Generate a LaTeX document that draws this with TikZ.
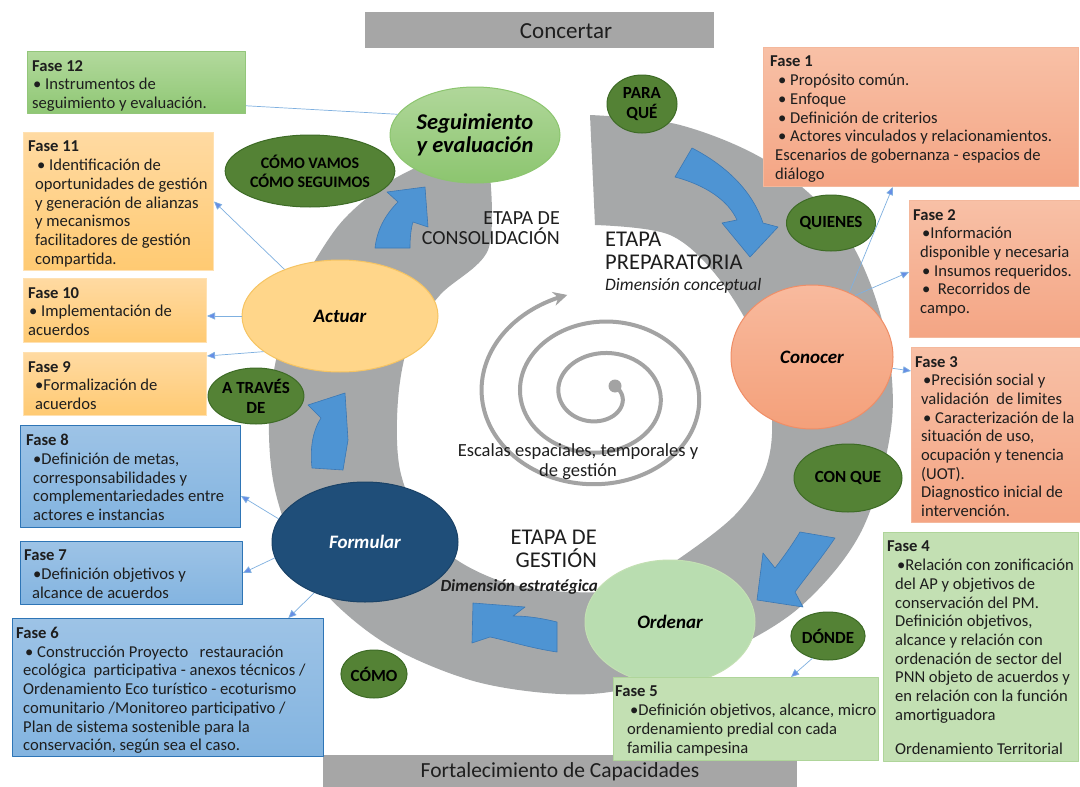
\documentclass[tikz,border=0pt]{standalone}
\usepackage{fontspec}
\setmainfont{Carlito}
\usetikzlibrary{shapes.geometric}
\usetikzlibrary{arrows.meta}
\usetikzlibrary{calc}

\definecolor{txt}{HTML}{1E1E1E}
\definecolor{bandgray}{HTML}{A6A8A9}
\definecolor{bargray}{HTML}{A6A6A6}
\definecolor{spiralgray}{HTML}{A3A3A3}
\definecolor{arrowblue}{HTML}{4E94D3}
\definecolor{arrowedge}{HTML}{3B78B4}
\definecolor{linkblue}{HTML}{7FB0E0}
\definecolor{askfill}{HTML}{548235}
\definecolor{askedge}{HTML}{3E6B26}
\definecolor{segtop}{HTML}{B0D79A}
\definecolor{segbot}{HTML}{8CC56F}
\definecolor{actfill}{HTML}{FFD68A}
\definecolor{actedge}{HTML}{F6C462}
\definecolor{contop}{HTML}{F8BA9E}
\definecolor{conbot}{HTML}{F4A07A}
\definecolor{conedge}{HTML}{EF8E67}
\definecolor{ordfill}{HTML}{B9DDB0}
\definecolor{frmfill}{HTML}{1F4E79}
\definecolor{grntop}{HTML}{B2D99C}
\definecolor{grnbot}{HTML}{8FC774}
\definecolor{grnedge}{HTML}{93C67A}
\definecolor{orgtop}{HTML}{FFDAA2}
\definecolor{orgbot}{HTML}{FFCA72}
\definecolor{orgedge}{HTML}{FFE1B2}
\definecolor{blutop}{HTML}{9DC3E6}
\definecolor{blubot}{HTML}{83B4E0}
\definecolor{bluedge}{HTML}{2E75B6}
\definecolor{saltop}{HTML}{F8C0A6}
\definecolor{salbot}{HTML}{F4A584}
\definecolor{saledge}{HTML}{F4B89C}
\definecolor{palefill}{HTML}{C3E0B3}
\definecolor{paleedge}{HTML}{AFD59A}

\begin{document}
\begin{tikzpicture}
  [x=1pt,y=-1pt,line join=round,
   % Styles
   bar/.style={rectangle,fill=bargray,inner sep=0pt,anchor=north west},
   bartext/.style={inner sep=0pt,text=txt,font=\fontsize{23}{25}\selectfont},
   band/.style={fill=bandgray},
   spiral/.style={draw=spiralgray,line width=4pt,line cap=round,
     -{Stealth[length=14pt,width=14pt]}},
   blockarrow/.style={fill=arrowblue,draw=arrowedge,line width=0.6pt},
   phase/.style={ellipse,inner sep=0pt,line width=1pt,align=center,text=black,
     font=\fontsize{19}{22}\selectfont\bfseries\itshape},
   ask/.style={ellipse,fill=askfill,draw=askedge,line width=1pt,inner sep=0pt,
     align=center,text=black,font=\fontsize{17}{20}\selectfont\bfseries},
   fasebox/.style={rectangle,inner sep=0pt,anchor=north west,line width=1pt},
   orangebox/.style={fasebox,draw=orgedge,top color=orgtop,bottom color=orgbot},
   greenbox/.style={fasebox,draw=grnedge,top color=grntop,bottom color=grnbot},
   bluebox/.style={fasebox,draw=bluedge,top color=blutop,bottom color=blubot},
   salmonbox/.style={fasebox,draw=saledge,top color=saltop,bottom color=salbot},
   palebox/.style={fasebox,draw=paleedge,fill=palefill},
   fasetext/.style={anchor=north west,inner sep=0pt,align=left,text=txt,
     font=\fontsize{16.6}{18.7}\selectfont},
   etapa/.style={inner sep=0pt,text=txt,font=\fontsize{22.5}{23}\selectfont},
   dimension/.style={inner sep=0pt,text=txt,font=\fontsize{17.5}{18}\selectfont\itshape},
   link/.style={draw=linkblue,line width=0.7pt,
     -{Triangle[length=8pt,width=7pt,fill=linkblue!80!blue]}}]

  \useasboundingbox (0,0) rectangle (1080,787);
  \fill[white] (0,0) rectangle (1080,787);

  % top and bottom bars
  \node[bar,minimum width=349pt,minimum height=36pt] (concertar) at (365,12) {};
  \node[bartext] (concertartext) at (566,31) {Concertar};
  \node[bar,minimum width=474pt,minimum height=32pt] (fortal) at (323,755) {};
  \node[bartext,font=\fontsize{21.5}{24}\selectfont] (fortaltext) at (560,772)
    {Fortalecimiento de Capacidades};

  % gray band round the cycle
  \fill[band] plot[smooth,tension=0.55] coordinates {(590,115) (680,125) (770,163)
      (843,230) (882,320) (892,420) (862,530) (800,607) (720,655) (630,688) (560,694)
      (470,680) (380,640) (310,575) (275,490) (270,400) (290,310) (335,230) (380,188)
      (415,168)}
    -- plot[smooth,tension=0.55] coordinates {(490,175) (488,250) (440,295) (410,340)
      (398,400) (400,470) (425,530) (460,562) (510,584) (570,592) (630,588) (680,558)
      (735,515) (765,470) (772,420) (760,350) (720,280) (670,235) (595,225)}
    -- cycle;

  % spiral in the middle
  \draw[spiral] plot[domain=-35:975,samples=240,smooth]
    ({600+(22+0.107*\x)*cos(\x)},{395+0.82*(22+0.107*\x)*sin(\x)});
  \fill[spiralgray] (615,386) circle (6.5pt);

  % blue block arrows
  \filldraw[blockarrow] (675,177) -- (692,148) .. controls (725,165) and (752,190) .. (763,223)
    -- (778,227) -- (750,257) -- (722,223) -- (737,220)
    .. controls (728,200) and (705,185) .. (675,177) -- cycle;
  \filldraw[blockarrow] (800,532) -- (835,538) .. controls (820,560) and (805,578) .. (795,592)
    -- (803,607) -- (757,600) -- (763,553) -- (775,568)
    .. controls (785,555) and (792,545) .. (800,532) -- cycle;
  \filldraw[blockarrow] (557,622) -- (557,652) .. controls (530,648) and (505,640) .. (490,637)
    -- (472,643) -- (473,603) -- (525,607) -- (513,616)
    .. controls (530,616) and (545,619) .. (557,622) -- cycle;
  \filldraw[blockarrow] (312,468) -- (343,470) -- (348,440) -- (345,393) -- (308,405) -- (321,418)
    .. controls (312,432) and (310,450) .. (312,468) -- cycle;
  \filldraw[blockarrow] (375,248) -- (410,248) .. controls (410,238) and (411,228) .. (413,222)
    -- (428,227) -- (425,187) -- (387,192) -- (398,202)
    .. controls (385,215) and (377,230) .. (375,248) -- cycle;

  % stage texts
  \node[etapa,anchor=north east,align=right,font=\fontsize{20}{20}\selectfont] (consol)
    at (560,211) {ETAPA DE\\CONSOLIDACIÓN};
  \node[etapa,anchor=north west,align=left] (prepar) at (605,232) {ETAPA\\PREPARATORIA};
  \node[dimension,anchor=north west] (dimcon) at (605,278) {Dimensión conceptual};
  \node[etapa,anchor=north east,align=right] (gestion) at (597,530) {ETAPA DE\\GESTIÓN};
  \node[dimension,anchor=north east,font=\fontsize{17}{18}\selectfont\bfseries\itshape]
    (dimest) at (598,579) {Dimensión estratégica};
  \node[inner sep=0pt,align=center,text=txt,font=\fontsize{18.5}{20}\selectfont] (escalas)
    at (578,462) {Escalas espaciales, temporales y\\de gestión};

  % phase ellipses
  \node[phase,draw=segbot,top color=segtop,bottom color=segbot,
    minimum width=170pt,minimum height=96pt,font=\fontsize{22.5}{23.5}\selectfont\bfseries\itshape]
    (seg) at (475,135) {Seguimiento\\y evaluación};
  \node[phase,draw=actedge,fill=actfill,minimum width=196pt,minimum height=112pt]
    (act) at (340,316) {Actuar};
  \node[phase,draw=frmfill!85!black,fill=frmfill,text=white,minimum width=186pt,
    minimum height=120pt] (frm) at (365,542) {Formular};
  \node[phase,draw=palefill,fill=ordfill,minimum width=170pt,minimum height=124pt]
    (ord) at (670,622) {Ordenar};
  \node[phase,draw=conedge,top color=contop,bottom color=conbot,minimum width=162pt,
    minimum height=144pt] (con) at (812,357) {Conocer};

  % question ellipses
  \node[ask,minimum width=70pt,minimum height=58pt] (paraque) at (642,104) {PARA\\QUÉ};
  \node[ask,minimum width=86pt,minimum height=56pt] (quienes) at (831,223) {QUIENES};
  \node[ask,minimum width=108pt,minimum height=68pt] (conque) at (848,478) {CON QUE};
  \node[ask,minimum width=70pt,minimum height=48pt] (donde) at (828,636) {DÓNDE};
  \node[ask,minimum width=62pt,minimum height=48pt] (como) at (374,674) {CÓMO};
  \node[ask,minimum width=94pt,minimum height=56pt] (atraves) at (256,396) {A TRAVÉS\\DE};
  \node[ask,minimum width=134pt,minimum height=72pt,font=\fontsize{16}{19}\selectfont\bfseries]
    (comovamos) at (310,171) {CÓMO VAMOS\\CÓMO SEGUIMOS};

  % phase boxes, left side
  \node[greenbox,minimum width=218pt,minimum height=62pt] (f12) at (27,51) {};
  \node[fasetext] (t12) at ([xshift=5pt,yshift=-9pt]f12.north west)
    {\textbf{Fase 12}\\\hspace*{1pt}• Instrumentos de\\seguimiento y evaluación.};
  \node[orangebox,minimum width=190pt,minimum height=138pt] (f11) at (23,132) {};
  \node[fasetext] (t11) at ([xshift=5pt,yshift=-9pt]f11.north west)
    {\textbf{Fase 11}\\\hspace*{9pt}• Identificación de\\\hspace*{7pt}oportunidades de gestión\\
     \hspace*{7pt}y generación de alianzas\\\hspace*{7pt}y mecanismos\\
     \hspace*{7pt}facilitadores de gestión\\\hspace*{7pt}compartida.};
  \node[orangebox,minimum width=183pt,minimum height=64pt] (f10) at (23,278) {};
  \node[fasetext] (t10) at ([xshift=5pt,yshift=-9pt]f10.north west)
    {\textbf{Fase 10}\\\hspace*{1pt}• Implementación de\\acuerdos};
  \node[orangebox,minimum width=183pt,minimum height=63pt] (f9) at (23,352) {};
  \node[fasetext] (t9) at ([xshift=5pt,yshift=-9pt]f9.north west)
    {\textbf{Fase 9}\\\hspace*{7pt}•Formalización de\\\hspace*{7pt}acuerdos};
  \node[bluebox,minimum width=220pt,minimum height=102pt] (f8) at (20,425) {};
  \node[fasetext] (t8) at ([xshift=6pt,yshift=-9pt]f8.north west)
    {\textbf{Fase 8}\\\hspace*{7pt}•Definición de metas,\\\hspace*{7pt}corresponsabilidades y\\
     \hspace*{7pt}complementariedades entre\\\hspace*{7pt}actores e instancias};
  \node[bluebox,minimum width=222pt,minimum height=63pt] (f7) at (20,541) {};
  \node[fasetext] (t7) at ([xshift=4pt,yshift=-9pt]f7.north west)
    {\textbf{Fase 7}\\\hspace*{9pt}•Definición objetivos y\\\hspace*{8pt}alcance de acuerdos};
  \node[bluebox,minimum width=311pt,minimum height=138pt] (f6) at (12,618) {};
  \node[fasetext] (t6) at ([xshift=4pt,yshift=-9pt]f6.north west)
    {\textbf{Fase 6}\\\hspace*{9pt}• Construcción Proyecto\ \ \ restauración\\
     \hspace*{7pt}ecológica\ \ participativa - anexos técnicos /\\
     \hspace*{7pt}Ordenamiento Eco turístico - ecoturismo\\
     \hspace*{7pt}comunitario /Monitoreo participativo /\\
     \hspace*{7pt}Plan de sistema sostenible para la\\
     \hspace*{7pt}conservación, según sea el caso.};

  % phase boxes, right side
  \node[salmonbox,minimum width=315pt,minimum height=139pt] (f1) at (763,47) {};
  \node[fasetext] (t1) at ([xshift=7pt,yshift=-9pt]f1.north west)
    {\textbf{Fase 1}\\\hspace*{8pt}• Propósito común.\\\hspace*{8pt}• Enfoque\\
     \hspace*{8pt}• Definición de criterios\\
     \hspace*{8pt}• Actores vinculados y relacionamientos.\\
     \hspace*{5pt}Escenarios de gobernanza - espacios de\\\hspace*{5pt}diálogo};
  \node[salmonbox,minimum width=171pt,minimum height=137pt] (f2) at (909,200) {};
  \node[fasetext] (t2) at ([xshift=4pt,yshift=-9pt]f2.north west)
    {\textbf{Fase 2}\\\hspace*{9pt}•Información\\\hspace*{7pt}disponible y necesaria\\
     \hspace*{9pt}• Insumos requeridos.\\\hspace*{9pt}•\ \ Recorridos de\\\hspace*{7pt}campo.};
  \node[salmonbox,minimum width=169pt,minimum height=175pt] (f3) at (911,347) {};
  \node[fasetext] (t3) at ([xshift=4pt,yshift=-9pt]f3.north west)
    {\textbf{Fase 3}\\\hspace*{8pt}•Precisión social y\\\hspace*{6pt}validación\ \ de limites\\
     \hspace*{8pt}• Caracterización de la\\\hspace*{6pt}situación de uso,\\
     \hspace*{6pt}ocupación y tenencia\\\hspace*{6pt}(UOT).\\
     \hspace*{6pt}Diagnostico inicial de\\\hspace*{6pt}intervención.};
  \node[palebox,minimum width=195pt,minimum height=229pt] (f4) at (883,532) {};
  \node[fasetext] (t4) at ([xshift=4pt,yshift=-9pt]f4.north west)
    {\textbf{Fase 4}\\\hspace*{10pt}•Relación con zonificación\\\hspace*{8pt}del AP y objetivos de\\
     \hspace*{8pt}conservación del PM.\\\hspace*{8pt}Definición objetivos,\\
     \hspace*{8pt}alcance y relación con\\\hspace*{8pt}ordenación de sector del\\
     \hspace*{8pt}PNN objeto de acuerdos y\\\hspace*{8pt}en relación con la función\\
     \hspace*{8pt}amortiguadora\\[16pt]\hspace*{8pt}Ordenamiento Territorial};
  \node[palebox,minimum width=265pt,minimum height=83pt] (f5) at (613,677) {};
  \node[fasetext] (t5) at ([xshift=2pt,yshift=-9pt]f5.north west)
    {\textbf{Fase 5}\\\hspace*{15pt}•Definición objetivos, alcance, micro\\
     \hspace*{12pt}ordenamiento predial con cada\\\hspace*{12pt}familia campesina};

  % connectors from the phases to their boxes
  \draw[link,-] (seg.165) -- (f12.-12);
  \draw[link] (act.140) -- (f11.east);
  \draw[link] (act.west) -- (act.west -| f10.east);
  \draw[link] (act.205) -- ([yshift=-4pt]f9.north east);
  \draw[link] (frm.165) -- (f8.-10);
  \draw[link] (frm.190) -- (f7.east);
  \draw[link] (frm.225) -- (f6.30);
  \draw[link] (donde.235) -- (f5.43);
  \draw[link] (con.60) -- (f1.248);
  \draw[link] (con.55) -- (f2.182);
  \draw[link] (con.-8) -- (f3.143.5);
\end{tikzpicture}
\end{document}
